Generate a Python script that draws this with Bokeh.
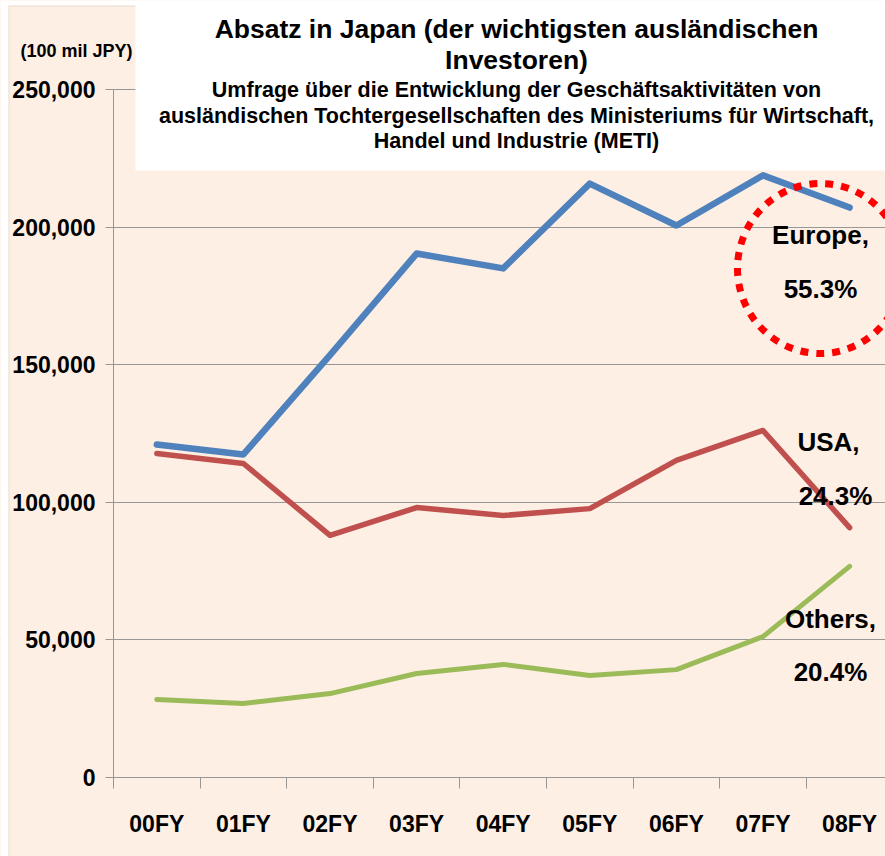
from bokeh.plotting import figure
from bokeh.models import Range1d, FixedTicker, NumeralTickFormatter, BoxAnnotation, Label
from bokeh.embed import file_html
from bokeh.resources import INLINE

# ---- data ----
years = ["00FY", "01FY", "02FY", "03FY", "04FY", "05FY", "06FY", "07FY", "08FY"]
europe = [121000, 117400, 153500, 190400, 185000, 215800, 200600, 218800, 207100]
usa = [117700, 114100, 88000, 98100, 95200, 97700, 115200, 126100, 90800]
others = [28300, 26900, 30500, 37800, 41100, 37100, 39200, 51200, 76700]
y_ticks = [0, 50000, 100000, 150000, 200000, 250000]

title_lines = ["Absatz in Japan (der wichtigsten ausländischen", "Investoren)"]
subtitle_lines = ["Umfrage über die Entwicklung der Geschäftsaktivitäten von",
                  "ausländischen Tochtergesellschaften des Ministeriums für Wirtschaft,",
                  "Handel und Industrie (METI)"]
unit_label = "(100 mil JPY)"
share_labels = [("Europe,", "55.3%"), ("USA,", "24.3%"), ("Others,", "20.4%")]

BG = "#FDEFE4"
BORDER = "#CFC6BE"
GRAY = "#979797"
FONT = "Liberation Sans"

# ---- layout helpers (page pixels -> data) ----
X0_PX, X_STEP = 113.0, 86.6          # y-axis position (= x -0.5), px per category
Y0_PX, Y_STEP = 777.0, 137.6 / 50000  # y=0 position, px per unit


def dx(px):
    return (px - X0_PX) / X_STEP - 0.5


def dy(py):
    return (Y0_PX - py) / Y_STEP


def base(py, size):
    # label anchor so that the text baseline lands on page row py
    return dy(py - 0.43 * size)


W, H = 885, 856
p = figure(width=W, height=H, output_backend="svg", toolbar_location=None,
           x_range=Range1d(dx(0), dx(W)), y_range=Range1d(dy(H), dy(0)),
           min_border_left=0, min_border_right=0, min_border_top=0, min_border_bottom=0,
           background_fill_color=BG, border_fill_color=BG, outline_line_color=None)

p.xgrid.visible = False
p.ygrid.ticker = FixedTicker(ticks=y_ticks)
p.ygrid.grid_line_color = GRAY
p.ygrid.grid_line_width = 1

p.yaxis.fixed_location = -0.5
p.yaxis.ticker = FixedTicker(ticks=y_ticks)
p.yaxis.formatter = NumeralTickFormatter(format="0,0")
p.yaxis.bounds = (0, 250000)
p.yaxis.axis_line_color = GRAY
p.yaxis.major_tick_line_color = GRAY
p.yaxis.major_tick_out = 8
p.yaxis.major_tick_in = 0
p.yaxis.minor_tick_line_color = None
p.yaxis.major_label_standoff = 10
p.yaxis.major_label_text_font = FONT
p.yaxis.major_label_text_font_style = "bold"
p.yaxis.major_label_text_font_size = "23px"
p.yaxis.major_label_text_color = "black"

xs = list(range(len(years)))
p.xaxis.fixed_location = 0
p.xaxis.ticker = FixedTicker(ticks=xs, minor_ticks=[i - 0.5 for i in range(len(years) + 1)])
p.xaxis.major_label_overrides = {i: y for i, y in enumerate(years)}
p.xaxis.bounds = (-0.5, dx(W))
p.xaxis.axis_line_color = GRAY
p.xaxis.major_tick_line_color = None
p.xaxis.major_tick_out = 0
p.xaxis.major_tick_in = 0
p.xaxis.minor_tick_line_color = GRAY
p.xaxis.minor_tick_out = 11
p.xaxis.minor_tick_in = 0
p.xaxis.major_label_standoff = 22
p.xaxis.major_label_text_font = FONT
p.xaxis.major_label_text_font_style = "bold"
p.xaxis.major_label_text_font_size = "23px"
p.xaxis.major_label_text_color = "black"

# hide grid lines left of the value axis
p.add_layout(BoxAnnotation(left=dx(0), right=-0.5, fill_color=BG, fill_alpha=1.0,
                           line_color=None, level="underlay"))

# ---- series ----
p.line(xs, europe, line_color="#4F81BD", line_width=6.5, line_join="round", line_cap="round")
p.line(xs, usa, line_color="#C0504D", line_width=5.5, line_join="round", line_cap="round")
p.line(xs, others, line_color="#9BBB59", line_width=5, line_join="round", line_cap="round")

# ---- highlight circle ----
p.ellipse(x=[dx(820)], y=[dy(268)], width=166, height=170, width_units="screen", height_units="screen",
          fill_color=None, line_color="#FF0000", line_width=7, line_dash="8 8")

# ---- chart-area border and white page margin ----
p.add_layout(BoxAnnotation(left=dx(0), right=dx(8), fill_color="white", fill_alpha=1.0,
                           line_color=None, level="overlay"))
p.add_layout(BoxAnnotation(bottom=dy(5), top=dy(0), fill_color="white", fill_alpha=1.0,
                           line_color=None, level="overlay"))
p.add_layout(BoxAnnotation(left=dx(8.5), right=dx(W + 20), bottom=dy(H + 20), top=dy(5.5),
                           fill_color=None, line_color=BORDER, line_width=1.5, level="overlay"))

# ---- title box ----
p.add_layout(BoxAnnotation(left=dx(135), right=dx(W), bottom=dy(170), top=dy(0),
                           fill_color="white", fill_alpha=1.0, line_color=None, level="overlay"))

cx = dx(516)
for txt, b in zip(title_lines, [40, 71]):
    p.add_layout(Label(x=cx, y=base(b, 26.5), text=txt, text_align="center", text_baseline="alphabetic",
                       text_font=FONT, text_font_style="bold", text_font_size="26.5px",
                       text_color="black", level="overlay"))
for txt, b in zip(subtitle_lines, [99, 125, 150]):
    p.add_layout(Label(x=cx, y=base(b, 21.5), text=txt, text_align="center", text_baseline="alphabetic",
                       text_font=FONT, text_font_style="bold", text_font_size="21.5px",
                       text_color="black", level="overlay"))

p.add_layout(Label(x=dx(76), y=base(58, 18), text=unit_label, text_align="center", text_baseline="alphabetic",
                   text_font=FONT, text_font_style="bold", text_font_size="18px", text_color="black",
                   level="overlay"))

# ---- share labels ----
label_pos = [((820, 246), (820, 300)), ((828, 453), (835, 507)), ((830, 630), (830, 683))]
for (name, pct), ((x1, b1), (x2, b2)) in zip(share_labels, label_pos):
    p.add_layout(Label(x=dx(x1), y=base(b1, 26), text=name, text_align="center", text_baseline="alphabetic",
                       text_font=FONT, text_font_style="bold", text_font_size="26px", text_color="black"))
    p.add_layout(Label(x=dx(x2), y=base(b2, 26), text=pct, text_align="center", text_baseline="alphabetic",
                       text_font=FONT, text_font_style="bold", text_font_size="26px", text_color="black"))

open("out.html", "w").write(file_html(p, INLINE))
